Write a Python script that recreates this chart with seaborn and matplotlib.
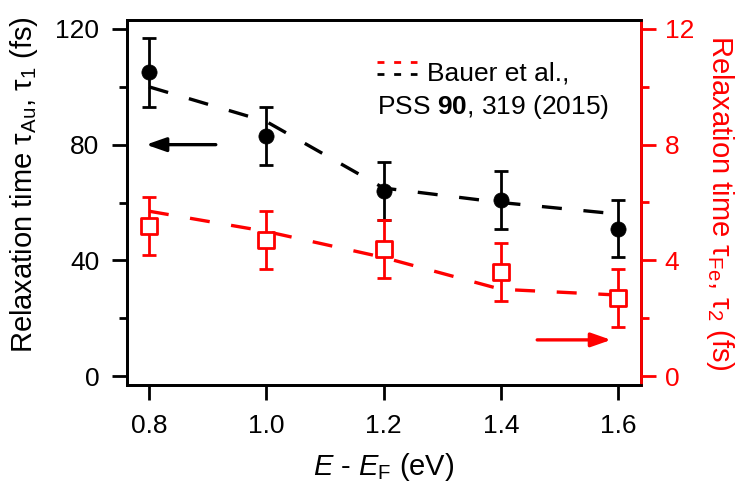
import matplotlib
matplotlib.use("Agg")
import matplotlib.pyplot as plt
import seaborn as sns
import pandas as pd
import numpy as np

# ---- data ----
energy = [0.8, 1.0, 1.2, 1.4, 1.6]
tau_au = [105, 83, 64, 61, 51]
tau_au_err = [12, 10, 10, 10, 10]
tau_fe = [5.2, 4.7, 4.4, 3.6, 2.7]
tau_fe_err = [1.0, 1.0, 1.0, 1.0, 1.0]
bauer_au = [100, 88, 65, 60, 56]
bauer_fe = [5.7, 5.0, 4.1, 3.0, 2.8]

sns.set_theme(style="ticks")
plt.rcParams['font.family'] = ['Liberation Sans', 'DejaVu Sans']
plt.rcParams['mathtext.fontset'] = 'custom'
plt.rcParams['mathtext.rm'] = 'Liberation Sans'
plt.rcParams['mathtext.it'] = 'Liberation Sans:italic'
plt.rcParams['mathtext.bf'] = 'Liberation Sans:bold'
for k in ['text.color', 'axes.labelcolor', 'xtick.color', 'ytick.color',
          'axes.edgecolor']:
    plt.rcParams[k] = 'black'

FS = 19
LFS = 21
RED = '#ff0000'
LW = 2.0

df = pd.DataFrame({'E': energy, 'au': tau_au, 'fe': tau_fe,
                   'bau': bauer_au, 'bfe': bauer_fe})

fig = plt.figure(figsize=(7.4, 4.83), dpi=100)
ax = fig.add_axes([127/740, 1-385/483, (641-127)/740, (385-20)/483])
ax2 = ax.twinx()

dash = (6.0, 6.5)
sns.lineplot(data=df, x='E', y='bau', ax=ax, color='black', lw=2.4,
             zorder=2).lines[0].set_dashes(dash)
sns.lineplot(data=df, x='E', y='bfe', ax=ax2, color=RED, lw=2.4,
             zorder=2).lines[0].set_dashes(dash)

ax.errorbar(energy, tau_au, yerr=tau_au_err, fmt='none', ecolor='black',
            elinewidth=LW, capsize=5, capthick=LW, zorder=3)
sns.scatterplot(data=df, x='E', y='au', ax=ax, color='black', s=120,
                marker='o', edgecolor='black', linewidth=0.5, zorder=4)
ax2.errorbar(energy, tau_fe, yerr=tau_fe_err, fmt='none', ecolor=RED,
             elinewidth=LW, capsize=5, capthick=LW, zorder=3)
sns.scatterplot(data=df, x='E', y='fe', ax=ax2, color='white', s=120,
                marker='s', edgecolor=RED, linewidth=LW, zorder=4)

ax.set_xlim(0.7626, 1.639)
ax.set_ylim(-3.1, 123.1)
ax2.set_ylim(-0.31, 12.31)

ax.set_xticks(energy)
ax.set_xticklabels(['0.8', '1.0', '1.2', '1.4', '1.6'])
ax.set_yticks([0, 40, 80, 120])
ax.set_yticks([20, 60, 100], minor=True)
ax2.set_yticks([0, 4, 8, 12])
ax2.set_yticks([2, 6, 10], minor=True)

for a in (ax, ax2):
    for s in a.spines.values():
        s.set_linewidth(LW)
        s.set_color('black')
ax2.spines['right'].set_color(RED)

ax.tick_params(axis='both', which='major', direction='out', length=11,
               width=LW, labelsize=FS, colors='black', pad=6)
ax.tick_params(axis='y', which='major', pad=9)
ax.tick_params(axis='y', which='minor', direction='out', length=6, width=LW)
ax.tick_params(axis='x', pad=10)
ax2.tick_params(axis='y', which='major', direction='out', length=11,
                width=LW, labelsize=FS, colors=RED, pad=6)
ax2.tick_params(axis='y', which='minor', direction='out', length=6,
                width=LW, colors=RED)

ax.set_xlabel('$E$ - $E_{\\mathrm{F}}$ (eV)', fontsize=LFS, labelpad=9)
ax.set_ylabel('Relaxation time τ$_{\\mathrm{Au}}$, τ$_{\\mathrm{1}}$ (fs)',
              fontsize=LFS)
ax.yaxis.set_label_coords(-0.17, 0.55)
ax2.set_ylabel('Relaxation time τ$_{\\mathrm{Fe}}$, τ$_{\\mathrm{2}}$ (fs)',
               fontsize=LFS, color=RED, rotation=270, labelpad=30)

# arrows indicating axes
ax.annotate('', xy=(0.795, 80), xytext=(0.914, 80),
            arrowprops=dict(arrowstyle='-|>,head_length=1.0,head_width=0.35',
                            color='black', lw=2.4, shrinkA=0, shrinkB=0))
ax2.annotate('', xy=(1.588, 1.25), xytext=(1.462, 1.25),
             arrowprops=dict(arrowstyle='-|>,head_length=1.0,head_width=0.35',
                             color=RED, lw=2.4, shrinkA=0, shrinkB=0))

# legend-like annotation
ax.plot([0.486, 0.564], [0.885, 0.885], transform=ax.transAxes, color=RED,
        lw=2.0, dashes=(2.5, 3.5), clip_on=False)
ax.plot([0.486, 0.564], [0.852, 0.852], transform=ax.transAxes, color='black',
        lw=2.0, dashes=(2.5, 3.5), clip_on=False)
ax.text((427-127)/514, 1-(73-20)/365, 'Bauer et al.,', transform=ax.transAxes,
        fontsize=FS, va='center', ha='left')
ax.text((377-127)/514, 1-(107-20)/365, 'PSS $\\mathbf{90}$, 319 (2015)',
        transform=ax.transAxes, fontsize=FS, va='center', ha='left')

fig.savefig('out.png', dpi=100)
